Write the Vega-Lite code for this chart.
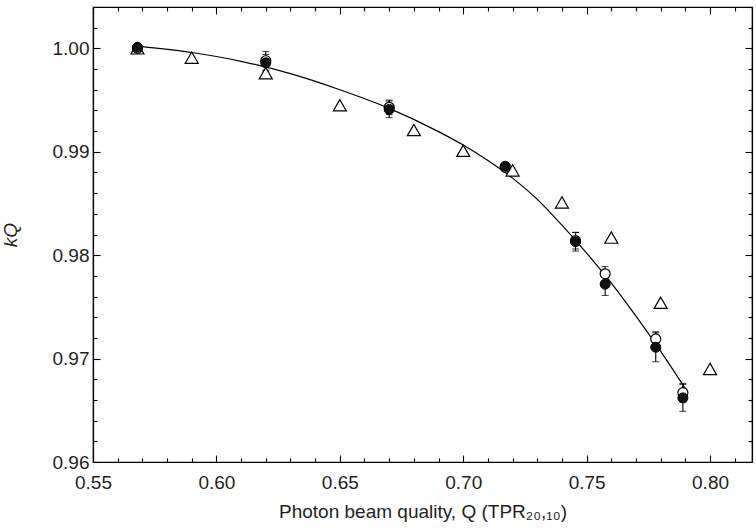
{
  "$schema": "https://vega.github.io/schema/vega-lite/v6.json",
  "width": 659,
  "height": 455,
  "autosize": "none",
  "padding": {"left": 93, "top": 7, "right": 4, "bottom": 66},
  "config": {
    "font": "Liberation Sans",
    "view": {"stroke": "black", "strokeWidth": 1.2},
    "axis": {
      "grid": false,
      "domainColor": "black",
      "domainWidth": 1.2,
      "tickColor": "black",
      "tickWidth": 1.1,
      "labelColor": "#231f20",
      "titleColor": "#231f20",
      "labelFont": "Liberation Sans",
      "titleFont": "Liberation Sans",
      "labelFontSize": 19,
      "titleFontSize": 19,
      "titleFontWeight": "normal",
      "labelFlush": false,
      "labelOverlap": false
    }
  },
  "datasets": {
    "curve": [
      {"Q": 0.569, "k": 1.0002},
      {"Q": 0.59, "k": 0.9996},
      {"Q": 0.61, "k": 0.99875},
      {"Q": 0.63, "k": 0.99755},
      {"Q": 0.65, "k": 0.996},
      {"Q": 0.67, "k": 0.9942},
      {"Q": 0.69, "k": 0.99195},
      {"Q": 0.7, "k": 0.99065},
      {"Q": 0.71, "k": 0.98915},
      {"Q": 0.72, "k": 0.98745},
      {"Q": 0.73, "k": 0.9854},
      {"Q": 0.74, "k": 0.9829},
      {"Q": 0.75, "k": 0.9802},
      {"Q": 0.76, "k": 0.9773},
      {"Q": 0.77, "k": 0.9741},
      {"Q": 0.78, "k": 0.9707},
      {"Q": 0.79, "k": 0.9671}
    ],
    "measured": [
      {"series": "open", "Q": 0.568, "k": 1.0, "err": 0},
      {"series": "open", "Q": 0.62, "k": 0.9988, "err": 0.0009},
      {"series": "open", "Q": 0.67, "k": 0.9943, "err": 0.0007},
      {"series": "open", "Q": 0.717, "k": 0.9885, "err": 0.0003},
      {"series": "open", "Q": 0.7455, "k": 0.9814, "err": 0.0008},
      {"series": "open", "Q": 0.7575, "k": 0.9782, "err": 0.0007},
      {"series": "open", "Q": 0.778, "k": 0.9719, "err": 0.0007},
      {"series": "open", "Q": 0.789, "k": 0.9667, "err": 0.0009},
      {"series": "filled", "Q": 0.568, "k": 1.0001, "err": 0},
      {"series": "filled", "Q": 0.62, "k": 0.9986, "err": 0.0008},
      {"series": "filled", "Q": 0.67, "k": 0.9941, "err": 0.0008},
      {"series": "filled", "Q": 0.717, "k": 0.9886, "err": 0.0003},
      {"series": "filled", "Q": 0.7455, "k": 0.9813, "err": 0.0009},
      {"series": "filled", "Q": 0.7575, "k": 0.9772, "err": 0.0011},
      {"series": "filled", "Q": 0.778, "k": 0.9711, "err": 0.0014},
      {"series": "filled", "Q": 0.789, "k": 0.9662, "err": 0.0013}
    ],
    "triangles": [
      {"Q": 0.568, "k": 1.0},
      {"Q": 0.59, "k": 0.9991},
      {"Q": 0.62, "k": 0.9976},
      {"Q": 0.65, "k": 0.9945},
      {"Q": 0.68, "k": 0.9921},
      {"Q": 0.7, "k": 0.9901},
      {"Q": 0.72, "k": 0.9882},
      {"Q": 0.74, "k": 0.9851},
      {"Q": 0.76, "k": 0.9817},
      {"Q": 0.78, "k": 0.9754},
      {"Q": 0.8, "k": 0.969}
    ]
  },
  "resolve": {"axis": {"x": "independent", "y": "independent"}},
  "layer": [
    {
      "data": {"name": "measured"},
      "transform": [{"filter": "datum.err > 0"}],
      "mark": {"type": "errorbar", "color": "black", "thickness": 1.1, "ticks": {"size": 7, "thickness": 1.1, "color": "black"}},
      "encoding": {
        "x": {"field": "Q", "type": "quantitative", "scale": {"domain": [0.55, 0.817], "nice": false, "zero": false}, "axis": null},
        "y": {"field": "k", "type": "quantitative", "scale": {"domain": [0.96, 1.004], "nice": false, "zero": false}, "axis": null},
        "yError": {"field": "err"}
      }
    },
    {
      "data": {"name": "curve"},
      "mark": {"type": "line", "color": "black", "strokeWidth": 1.2, "interpolate": "monotone"},
      "encoding": {
        "x": {
          "field": "Q", "type": "quantitative",
          "scale": {"domain": [0.55, 0.817], "nice": false, "zero": false},
          "axis": {
            "orient": "bottom",
            "title": "Photon beam quality, Q (TPR₂₀,₁₀)",
            "values": [0.55,0.56,0.57,0.58,0.59,0.6,0.61,0.62,0.63,0.64,0.65,0.66,0.67,0.68,0.69,0.7,0.71,0.72,0.73,0.74,0.75,0.76,0.77,0.78,0.79,0.8,0.81],
            "labelExpr": "abs(datum.value*20-round(datum.value*20)) < 0.000001 ? format(datum.value, '.2f') : ''",
            "tickSize": {"condition": {"test": "abs(datum.value*20-round(datum.value*20)) < 0.000001", "value": -7}, "value": -4},
            "labelPadding": 18,
            "titlePadding": 7
          }
        },
        "y": {
          "field": "k", "type": "quantitative",
          "scale": {"domain": [0.96, 1.004], "nice": false, "zero": false},
          "axis": {
            "orient": "left",
            "title": "kQ",
            "titleFontStyle": "italic",
            "values": [0.96,0.962,0.964,0.966,0.968,0.97,0.972,0.974,0.976,0.978,0.98,0.982,0.984,0.986,0.988,0.99,0.992,0.994,0.996,0.998,1.0,1.002,1.004],
            "labelExpr": "abs(datum.value*100-round(datum.value*100)) < 0.000001 ? format(datum.value, '.2f') : ''",
            "tickSize": {"condition": {"test": "abs(datum.value*100-round(datum.value*100)) < 0.000001", "value": -7}, "value": -4},
            "labelPadding": 11,
            "titlePadding": 32
          }
        }
      }
    },
    {
      "data": {"name": "triangles"},
      "mark": {"type": "point", "shape": "triangle-up", "filled": true, "fill": "white", "stroke": "black", "strokeWidth": 1.2, "size": 170, "opacity": 1},
      "encoding": {
        "x": {
          "field": "Q", "type": "quantitative",
          "scale": {"domain": [0.55, 0.817], "nice": false, "zero": false},
          "axis": {
            "orient": "top",
            "title": null,
            "labels": false,
            "domain": true,
            "values": [0.55,0.56,0.57,0.58,0.59,0.6,0.61,0.62,0.63,0.64,0.65,0.66,0.67,0.68,0.69,0.7,0.71,0.72,0.73,0.74,0.75,0.76,0.77,0.78,0.79,0.8,0.81],
            "tickSize": {"condition": {"test": "abs(datum.value*20-round(datum.value*20)) < 0.000001", "value": -7}, "value": -4}
          }
        },
        "y": {
          "field": "k", "type": "quantitative",
          "scale": {"domain": [0.96, 1.004], "nice": false, "zero": false},
          "axis": {
            "orient": "right",
            "title": null,
            "labels": false,
            "domain": true,
            "values": [0.96,0.962,0.964,0.966,0.968,0.97,0.972,0.974,0.976,0.978,0.98,0.982,0.984,0.986,0.988,0.99,0.992,0.994,0.996,0.998,1.0,1.002,1.004],
            "tickSize": {"condition": {"test": "abs(datum.value*100-round(datum.value*100)) < 0.000001", "value": -7}, "value": -4}
          }
        }
      }
    },
    {
      "data": {"name": "measured"},
      "transform": [{"filter": "datum.series === 'open'"}],
      "mark": {"type": "point", "shape": "circle", "filled": true, "fill": "white", "stroke": "black", "strokeWidth": 1.2, "size": 100, "opacity": 1},
      "encoding": {
        "x": {"field": "Q", "type": "quantitative", "scale": {"domain": [0.55, 0.817], "nice": false, "zero": false}, "axis": null},
        "y": {"field": "k", "type": "quantitative", "scale": {"domain": [0.96, 1.004], "nice": false, "zero": false}, "axis": null}
      }
    },
    {
      "data": {"name": "measured"},
      "transform": [{"filter": "datum.series === 'filled'"}],
      "mark": {"type": "point", "shape": "circle", "filled": true, "fill": "#111111", "stroke": "black", "strokeWidth": 1, "size": 100, "opacity": 1},
      "encoding": {
        "x": {"field": "Q", "type": "quantitative", "scale": {"domain": [0.55, 0.817], "nice": false, "zero": false}, "axis": null},
        "y": {"field": "k", "type": "quantitative", "scale": {"domain": [0.96, 1.004], "nice": false, "zero": false}, "axis": null}
      }
    }
  ]
}
